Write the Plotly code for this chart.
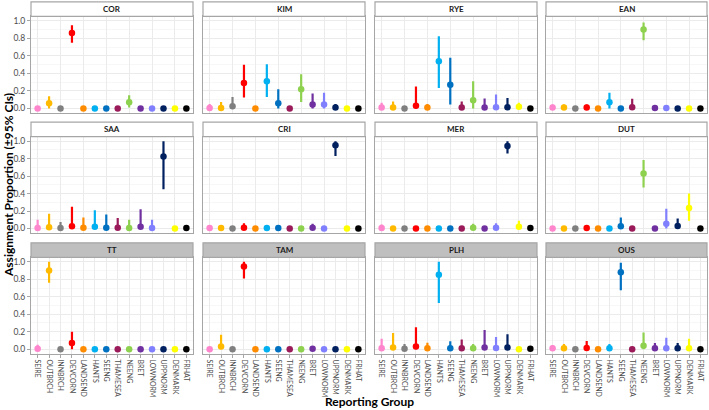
import plotly.graph_objects as go

GROUPS = ["SEIRE", "OUTBRCH", "INNBRCH", "DEVCORN", "LANDSEND", "HANTS", "SEENG",
          "THAMESEA", "NEENG", "BRET", "LOWNORM", "UPPNORM", "DENMARK", "FRHAT"]
COLORS = ["#FF85CC", "#FFBA00", "#808080", "#FF0000", "#FF8C00", "#00B0F0", "#0070C0",
          "#9B1B5A", "#8ED14F", "#7030A0", "#8080FF", "#002060", "#FFFF00", "#000000"]
PANELS = ["COR", "KIM", "RYE", "EAN", "SAA", "CRI", "MER", "DUT", "TT", "TAM", "PLH", "OUS"]
Y_TICKS = [0.0, 0.2, 0.4, 0.6, 0.8, 1.0]

COR_EST = [0.0, 0.06, 0.0, 0.86, 0.0, 0.0, 0.0, 0.0, 0.07, 0.0, 0.0, 0.0, 0.0, 0.0]
COR_LO = [0, 0, 0, 0.75, 0, 0, 0, 0, 0.01, 0, 0, 0, 0, 0]
COR_HI = [0.01, 0.14, 0.01, 0.95, 0.01, 0.01, 0.01, 0.01, 0.15, 0.01, 0.01, 0.01, 0.01, 0.01]

KIM_EST = [0.005, 0.005, 0.025, 0.29, 0.0, 0.31, 0.06, 0.0, 0.22, 0.045, 0.045, 0.01, 0.0, 0.0]
KIM_LO = [0, 0, 0, 0.125, 0, 0.13, 0, 0, 0.075, 0, 0, 0, 0, 0]
KIM_HI = [0.05, 0.075, 0.13, 0.50, 0.01, 0.505, 0.22, 0.01, 0.39, 0.17, 0.18, 0.05, 0.01, 0.01]

RYE_EST = [0.01, 0.01, 0.0, 0.03, 0.01, 0.54, 0.27, 0.01, 0.095, 0.01, 0.015, 0.015, 0.02, 0.0]
RYE_LO = [0, 0, 0, 0, 0, 0.235, 0.045, 0, 0, 0, 0, 0, 0, 0]
RYE_HI = [0.065, 0.08, 0.01, 0.25, 0.05, 0.825, 0.58, 0.08, 0.31, 0.115, 0.16, 0.12, 0.065, 0.01]

EAN_EST = [0.01, 0.01, 0.0, 0.01, 0.0, 0.07, 0.0, 0.015, 0.90, 0.005, 0.005, 0.0, 0.0, 0.0]
EAN_LO = [0, 0, 0, 0, 0, 0, 0, 0, 0.78, 0, 0, 0, 0, 0]
EAN_HI = [0.045, 0.045, 0.01, 0.045, 0.01, 0.18, 0.01, 0.11, 0.98, 0.035, 0.035, 0.01, 0.01, 0.01]

SAA_EST = [0.005, 0.015, 0.005, 0.025, 0.01, 0.02, 0.01, 0.01, 0.005, 0.02, 0.005, 0.825, 0.0, 0.005]
SAA_LO = [0, 0, 0, 0, 0, 0, 0, 0, 0, 0, 0, 0.45, 0, 0]
SAA_HI = [0.10, 0.17, 0.075, 0.25, 0.125, 0.21, 0.16, 0.12, 0.10, 0.22, 0.10, 1.0, 0.01, 0.04]

CRI_EST = [0.005, 0.005, 0.0, 0.01, 0.0, 0.005, 0.005, 0.0, 0.0, 0.01, 0.0, 0.955, 0.0, 0.0]
CRI_LO = [0, 0, 0, 0, 0, 0, 0, 0, 0, 0, 0, 0.83, 0, 0]
CRI_HI = [0.035, 0.02, 0.01, 0.06, 0.01, 0.04, 0.02, 0.01, 0.01, 0.055, 0.02, 1.0, 0.01, 0.01]

MER_EST = [0.005, 0.0, 0.0, 0.0, 0.0, 0.0, 0.0, 0.0, 0.01, 0.0, 0.01, 0.945, 0.02, 0.005]
MER_LO = [0, 0, 0, 0, 0, 0, 0, 0, 0, 0, 0, 0.86, 0, 0]
MER_HI = [0.045, 0.01, 0.01, 0.01, 0.01, 0.01, 0.01, 0.01, 0.055, 0.01, 0.06, 1.0, 0.09, 0.04]

DUT_EST = [0.0, 0.0, 0.0, 0.005, 0.0, 0.0, 0.025, 0.0, 0.63, 0.0, 0.055, 0.03, 0.235, 0.0]
DUT_LO = [0, 0, 0, 0, 0, 0, 0, 0, 0.47, 0, 0, 0, 0.09, 0]
DUT_HI = [0.01, 0.01, 0.01, 0.03, 0.01, 0.01, 0.125, 0.01, 0.785, 0.01, 0.225, 0.115, 0.40, 0.01]

TT_EST = [0.005, 0.90, 0.0, 0.07, 0.0, 0.0, 0.0, 0.0, 0.0, 0.0, 0.0, 0.0, 0.0, 0.0]
TT_LO = [0, 0.76, 0, 0, 0, 0, 0, 0, 0, 0, 0, 0, 0, 0]
TT_HI = [0.05, 1.0, 0.01, 0.20, 0.01, 0.01, 0.01, 0.01, 0.01, 0.01, 0.01, 0.01, 0.01, 0.01]

TAM_EST = [0.0, 0.03, 0.0, 0.947, 0.0, 0.0, 0.0, 0.0, 0.0, 0.005, 0.0, 0.0, 0.0, 0.0]
TAM_LO = [0, 0, 0, 0.81, 0, 0, 0, 0, 0, 0, 0, 0, 0, 0]
TAM_HI = [0.01, 0.165, 0.01, 1.0, 0.01, 0.01, 0.01, 0.01, 0.01, 0.035, 0.01, 0.01, 0.01, 0.01]

PLH_EST = [0.01, 0.02, 0.005, 0.03, 0.01, 0.853, 0.01, 0.01, 0.01, 0.02, 0.015, 0.02, 0.0, 0.005]
PLH_LO = [0, 0, 0, 0, 0, 0.53, 0, 0, 0, 0, 0, 0, 0, 0]
PLH_HI = [0.12, 0.185, 0.06, 0.25, 0.075, 1.0, 0.09, 0.11, 0.06, 0.22, 0.14, 0.17, 0.01, 0.01]

OUS_EST = [0.01, 0.01, 0.0, 0.015, 0.0, 0.01, 0.88, 0.0, 0.04, 0.01, 0.01, 0.01, 0.01, 0.0]
OUS_LO = [0, 0, 0, 0, 0, 0, 0.675, 0, 0, 0, 0, 0, 0, 0]
OUS_HI = [0.045, 0.06, 0.01, 0.095, 0.01, 0.06, 0.99, 0.01, 0.19, 0.07, 0.13, 0.07, 0.12, 0.01]

DATA = {
    "COR": (COR_EST, COR_LO, COR_HI), "KIM": (KIM_EST, KIM_LO, KIM_HI),
    "RYE": (RYE_EST, RYE_LO, RYE_HI), "EAN": (EAN_EST, EAN_LO, EAN_HI),
    "SAA": (SAA_EST, SAA_LO, SAA_HI), "CRI": (CRI_EST, CRI_LO, CRI_HI),
    "MER": (MER_EST, MER_LO, MER_HI), "DUT": (DUT_EST, DUT_LO, DUT_HI),
    "TT": (TT_EST, TT_LO, TT_HI), "TAM": (TAM_EST, TAM_LO, TAM_HI),
    "PLH": (PLH_EST, PLH_LO, PLH_HI), "OUS": (OUS_EST, OUS_LO, OUS_HI),
}

W, H = 709, 410
FONT = "Lato"
COL_PX = [(31, 193), (203, 365), (375, 537), (546, 707)]
ROW_PX = [(16.3, 113.3), (136.7, 233.3), (257.3, 354.0)]
STRIP_H = 14.5
BORDER = "#A6A6A6"
GRID = "#EBEBEB"

fig = go.Figure()
layout = {}
shapes = []
annotations = []

for i, panel in enumerate(PANELS):
    r, c = divmod(i, 4)
    k = i + 1
    xa = "x" if k == 1 else f"x{k}"
    ya = "y" if k == 1 else f"y{k}"
    est, lo, hi = DATA[panel]
    for j, g in enumerate(GROUPS):
        fig.add_trace(go.Scatter(
            x=[g], y=[est[j]], xaxis=xa, yaxis=ya, mode="markers",
            marker=dict(size=6.5, color=COLORS[j], line=dict(width=0)),
            error_y=dict(type="data", symmetric=False,
                         array=[max(hi[j] - est[j], 0)],
                         arrayminus=[max(est[j] - lo[j], 0)],
                         color=COLORS[j], thickness=2.2, width=0),
            showlegend=False, hoverinfo="skip"))
    x0, x1 = COL_PX[c]
    y0, y1 = ROW_PX[r]
    bottom = (r == 2)
    left = (c == 0)
    layout["xaxis" if k == 1 else f"xaxis{k}"] = dict(
        domain=[x0 / W, x1 / W], anchor=ya, type="category",
        categoryorder="array", categoryarray=GROUPS, automargin=False,
        range=[-0.58, 13.58], showgrid=True, gridcolor=GRID, gridwidth=1,
        showline=True, linecolor=BORDER, linewidth=1, mirror=True,
        zeroline=False, fixedrange=True,
        showticklabels=bottom, ticks="outside" if bottom else "",
        ticklen=3, tickcolor=BORDER, tickangle=90,
        tickfont=dict(family=FONT, size=7, color="#4D4D4D"))
    layout["yaxis" if k == 1 else f"yaxis{k}"] = dict(
        domain=[1 - y1 / H, 1 - y0 / H], anchor=xa, automargin=False,
        range=[-0.055, 1.052], tickvals=Y_TICKS,
        ticktext=[f"{v:.1f}" for v in Y_TICKS],
        showgrid=True, gridcolor=GRID, gridwidth=1,
        minor=dict(dtick=0.1, tick0=0.1, showgrid=True, gridcolor="#F2F2F2", gridwidth=0.6),
        showline=True, linecolor=BORDER, linewidth=1, mirror=True,
        zeroline=False, fixedrange=True,
        showticklabels=left, ticks="outside" if left else "",
        ticklen=3, tickcolor=BORDER,
        tickfont=dict(family=FONT, size=8.5, color="#4D4D4D"))
    # strip
    fill = "#BFBFBF" if r == 2 else "#FFFFFF"
    shapes.append(dict(type="rect", xref="paper", yref="paper",
                       x0=x0 / W, x1=x1 / W, y0=1 - y0 / H, y1=1 - (y0 - STRIP_H) / H,
                       fillcolor=fill, line=dict(color=BORDER, width=1.2), layer="above"))
    annotations.append(dict(text=f"<b>{panel}</b>", xref="paper", yref="paper",
                            x=(x0 + x1) / 2 / W, y=1 - (y0 - STRIP_H / 2) / H,
                            xanchor="center", yanchor="middle", showarrow=False,
                            font=dict(family=FONT, size=8, color="#1A1A1A")))

annotations.append(dict(text="<b>Reporting Group</b>", xref="paper", yref="paper",
                        x=(31 + 707) / 2 / W, y=1 - 401 / H, xanchor="center", yanchor="middle",
                        showarrow=False, font=dict(family=FONT, size=12, color="#000000")))
annotations.append(dict(text="<b>Assignment Proportion (±95% CIs)</b>", xref="paper", yref="paper",
                        x=9 / W, y=1 - 185 / H, xanchor="center", yanchor="middle", textangle=-90,
                        showarrow=False, font=dict(family=FONT, size=12, color="#000000")))

fig.update_layout(width=W, height=H, margin=dict(l=0, r=0, t=0, b=0, autoexpand=False),
                  paper_bgcolor="white", plot_bgcolor="white", hovermode=False,
                  shapes=shapes, annotations=annotations, **layout)
fig.write_html("out.html", config={"displayModeBar": False, "staticPlot": True},
               post_script="document.body.style.margin='0px';document.body.style.overflow='hidden';")
